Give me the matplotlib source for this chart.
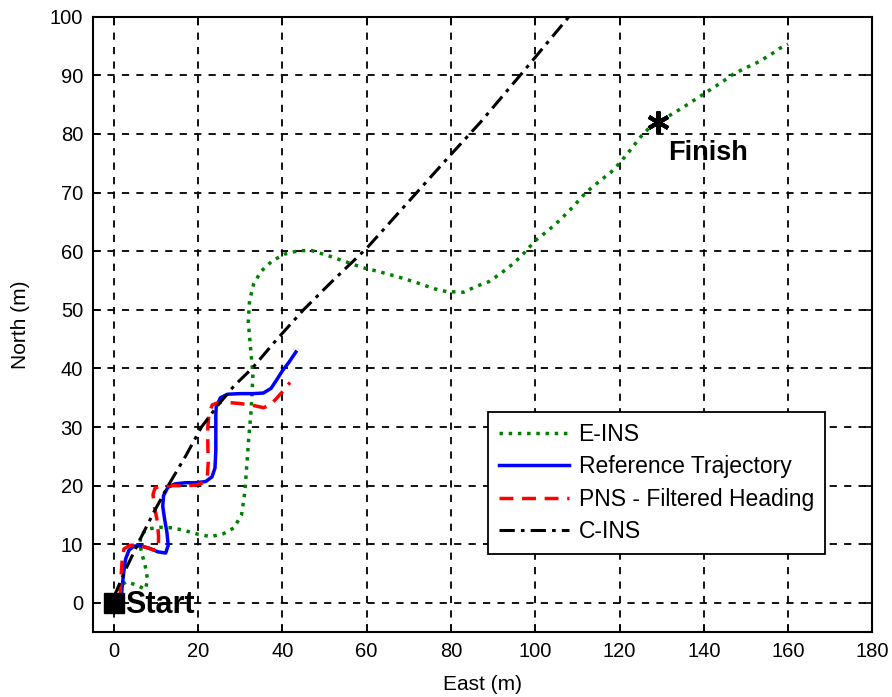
import matplotlib
matplotlib.use('Agg')
import matplotlib.pyplot as plt

plt.rcParams['font.family'] = ['Liberation Sans', 'DejaVu Sans']

# E-INS trajectory
eins_x = [0.5, 1.2, 3, 5.5, 7.5, 8, 7.4, 6.6, 6.2, 6.4, 8, 11, 14, 17, 20, 23, 26, 28.5,
          30.3, 31.1, 31.5, 32, 32.6, 33, 32.5, 31.9, 32.2, 33.2, 35, 37.5, 40.5, 44, 47,
          51, 55, 59, 63, 68, 72, 76, 79, 83, 86, 89, 92, 95, 97.5, 100, 103, 106, 109,
          112, 115, 118, 120, 122.5, 125, 127, 129, 132, 135, 138, 141, 144, 147, 150,
          153, 156, 158, 160]
eins_y = [0.5, 2.8, 3.6, 3, 2.3, 4, 6.5, 8.5, 10, 11.6, 12.6, 12.9, 12.8, 12.3, 11.7, 11.3,
          11.8, 12.8, 15, 19, 23, 28, 33, 39, 43, 48, 51.5, 54.5, 56.6, 58.3, 59.5, 60.1,
          60.1, 59.2, 58.2, 57.2, 56.5, 55.5, 54.6, 53.6, 53.1, 53, 54, 54.8, 56.3, 58,
          59.8, 61.8, 63.5, 65.4, 67.6, 70, 71.8, 73.5, 75, 77.2, 79.5, 81, 82, 83.2, 84.5,
          85.9, 87.3, 88.7, 90.2, 91.3, 92.3, 93.6, 94.6, 95.3]

# reference trajectory
ref_x = [1.8, 2, 2.4, 2.8, 3.6, 4.8, 6.5, 8.5, 10.5, 12.3, 12.9, 12.6, 12, 11.6, 11.8, 12.8,
         14.5, 17, 19.5, 21.8, 23.3, 24, 24.2, 24.2, 24.2, 24.3, 25.3, 27, 30, 33, 35.5,
         37.3, 38.6, 40, 41.5, 43.2]
ref_y = [1, 3, 5.5, 7.5, 9, 9.7, 9.7, 9.3, 8.7, 8.5, 9.8, 12, 14.5, 16.5, 18.3, 19.7, 20.3,
         20.5, 20.5, 20.7, 21.5, 23, 26, 29, 32, 33.5, 35, 35.6, 35.7, 35.7, 35.8, 36.6,
         38, 39.6, 41, 42.8]

# PNS - filtered heading
pns_x = [1.5, 1.6, 1.8, 2, 2.4, 3.8, 5.5, 7.5, 9.5, 10.6, 10.6, 10.3, 9.6, 9.3, 9.8, 11.5,
         14, 17, 19.5, 21.2, 22.2, 22.4, 22.3, 22.3, 22.6, 23.4, 25, 27, 30, 33, 35.5, 37,
         38.5, 40, 41.8]
pns_y = [1, 3, 5.5, 7.5, 9.2, 9.8, 9.9, 9.5, 9, 9.3, 11.5, 14, 16.5, 18.5, 19.6, 20, 20, 20,
         20.1, 20.5, 21.7, 24, 27, 30, 32.5, 33.8, 34.2, 34.2, 34, 33.7, 33.3, 33.7, 34.8,
         36, 37.6]

# C-INS
cins_x = [0, 3, 6.2, 9.5, 13.3, 17, 20.8, 24.8, 28.5, 32.8, 38.5, 45, 52, 60, 70, 80, 87,
          97, 108]
cins_y = [1, 6, 10.8, 15.5, 20.5, 25, 30, 33.8, 37, 40, 44.8, 50, 55, 60.5, 68.5, 76.5, 82,
          90.5, 100]

start_pt = (0, 0)
finish_pt = (129.2, 82)

fig = plt.figure(figsize=(8.92, 6.97), dpi=100)
ax = fig.add_axes([0.104, 0.093, 0.874, 0.883])

ax.plot(eins_x, eins_y, linestyle=':', color=(0, 0.5, 0), lw=2.5, label='E-INS')
ax.plot(ref_x, ref_y, '-', color='blue', lw=2.5, label='Reference Trajectory')
ax.plot(pns_x, pns_y, '--', color='red', lw=2.5, dashes=(4, 2.5), label='PNS - Filtered Heading')
ax.plot(cins_x, cins_y, color='black', lw=2.2, dashes=(5, 2, 1.2, 2), label='C-INS')

ax.plot([start_pt[0]], [start_pt[1]], 's', color='black', markersize=14)
ax.plot([finish_pt[0]], [finish_pt[1]], marker=(6, 2, 0), color='black',
        markersize=16, markeredgewidth=3, linestyle='none')
ax.text(2.6, -0.4, 'Start', fontsize=22, fontweight='bold', va='center', ha='left')
ax.text(131.5, 76.8, 'Finish', fontsize=19.5, fontweight='bold', va='center', ha='left')

ax.set_xlim(-5, 180)
ax.set_ylim(-5, 100)
ax.set_xticks(range(0, 181, 20))
ax.set_yticks(range(0, 101, 10))
ax.tick_params(direction='in', length=6, width=1.2, top=True, right=True, labelsize=14.5)
ax.tick_params(axis='x', pad=7)
ax.tick_params(axis='y', pad=7)
ax.grid(True, color='black', linestyle=(0, (4, 4)), linewidth=1.3)
for s in ax.spines.values():
    s.set_linewidth(1.5)

ax.set_xlabel('East (m)', fontsize=15, labelpad=10)
ax.set_ylabel('North (m)', fontsize=15, labelpad=14)

leg = ax.legend(loc='upper left', bbox_to_anchor=(0.507, 0.358), fontsize=16.5,
                handlelength=3.05, handletextpad=0.4, labelspacing=0.4, fancybox=False,
                framealpha=1, edgecolor='black', borderpad=0.5, borderaxespad=0)
leg.get_frame().set_linewidth(1.3)

plt.savefig('out.png', format='png')
